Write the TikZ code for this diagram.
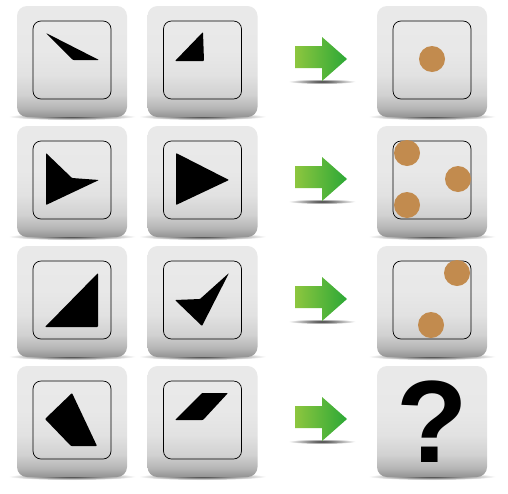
\documentclass[tikz,border=0pt]{standalone}
\usepackage{fontspec}
\newfontfamily\qfont{Liberation Sans}
\definecolor{dotbrown}{HTML}{C28B4E}
\definecolor{arrowlight}{HTML}{8DC63F}
\definecolor{arrowdark}{HTML}{2CA836}
\pgfdeclareverticalshading{tileshade}{100bp}{color(0bp)=(gray!85); color(25bp)=(gray!85); color(29bp)=(gray!58); color(35bp)=(gray!36); color(44bp)=(gray!23); color(55bp)=(gray!18); color(75bp)=(gray!17); color(100bp)=(gray!17)}

\begin{document}
\begin{tikzpicture}[
    x=1pt, y=-1pt,
    tilebox/.style={
        shade,
        shading=tileshade,
        rounded corners=10pt,
        minimum width=110pt,
        minimum height=111pt,
        inner sep=0pt
    },
    framebox/.style={
        draw,
        line width=0.7pt,
        rounded corners=8pt,
        minimum size=78pt,
        inner sep=0pt
    },
    tileshadow/.style={inner color=black!80, outer color=white},
    figshape/.style={fill=black, rounded corners=0.8pt},
    dot/.style={fill=dotbrown}
]
\fill[white] (0,0) rectangle (508,493);
\useasboundingbox (0,0) rectangle (508,493);

% shadows, tiles and frames
\foreach \r in {0,...,3} {
    \shade[tileshadow] (72,116.5+120*\r) ellipse [x radius=64pt, y radius=3.5pt];
    \shade[tileshadow] (202.5,116.5+120*\r) ellipse [x radius=64pt, y radius=3.5pt];
    \shade[tileshadow] (432,116.5+120*\r) ellipse [x radius=64pt, y radius=3.5pt];
    \shade[tileshadow] (322,81.5+120*\r) ellipse [x radius=34pt, y radius=2.5pt];
    \node[tilebox] (t\r a) at (72,61.5+120*\r) {};
    \node[tilebox] (t\r b) at (202.5,61.5+120*\r) {};
    \node[tilebox] (d\r) at (432,61.5+120*\r) {};
    \node[framebox, yshift=1.5pt] (f\r a) at (t\r a) {};
    \node[framebox, yshift=1.5pt] (f\r b) at (t\r b) {};
    \shade[left color=arrowlight, right color=arrowdark]
        (295,46+120*\r) -- (322,46+120*\r) -- (322,37+120*\r) -- (347,59+120*\r)
        -- (322,81+120*\r) -- (322,68+120*\r) -- (295,68+120*\r) -- cycle;
}
\foreach \r in {0,...,2} {
    \node[framebox, yshift=1.5pt] (f\r c) at (d\r) {};
}

% row 1
\fill[figshape] (46,33) -- (99,60) -- (73,60) -- cycle;
\fill[figshape] (203,32) -- (204,61) -- (175,61) -- cycle;
\fill[dot] (432,59) circle [radius=13pt];

% row 2
\fill[figshape] (46,153) -- (72,178) -- (99,180) -- (46,205) -- cycle;
\fill[figshape] (176,153) -- (229,180) -- (176,205) -- cycle;
\fill[dot] (407,153) circle [radius=13pt];
\fill[dot] (458,179) circle [radius=13pt];
\fill[dot] (407,205) circle [radius=13pt];

% row 3
\fill[figshape] (98,273) -- (98,327) -- (45,327) -- cycle;
\fill[figshape] (175,300) -- (200,299) -- (229,273) -- (202,326) -- cycle;
\fill[dot] (457,273) circle [radius=13pt];
\fill[dot] (431,325) circle [radius=13pt];

% row 4
\fill[figshape] (72,393) -- (97,446) -- (71,446) -- (45,419) -- cycle;
\fill[figshape] (202,393) -- (228,393) -- (203,420) -- (175,420) -- cycle;
\node[font=\qfont\bfseries\fontsize{117}{117}\selectfont, inner sep=0pt] (qmark) at (432,421.5) {?};
\end{tikzpicture}
\end{document}
